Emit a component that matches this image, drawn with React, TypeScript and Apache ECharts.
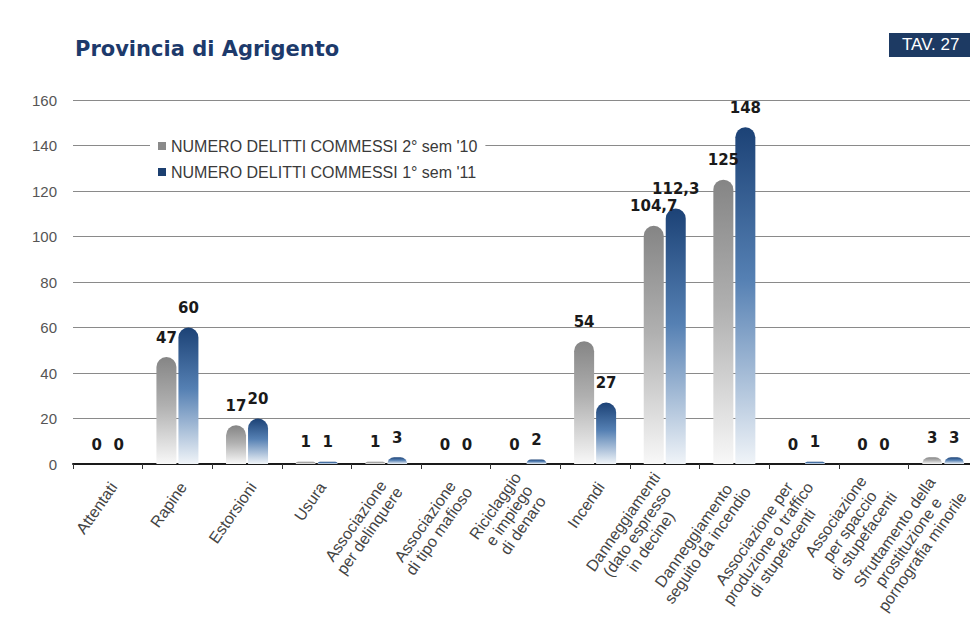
import React, { useEffect, useRef } from "react";
import * as echarts from "echarts";

const categories = [
  "Attentati",
  "Rapine",
  "Estorsioni",
  "Usura",
  "Associazione\nper delinquere",
  "Associazione\ndi tipo mafioso",
  "Riciclaggio\ne impiego\ndi denaro",
  "Incendi",
  "Danneggiamenti\n(dato espresso\nin decine)",
  "Danneggiamento\nseguito da incendio",
  "Associazione per\nproduzione o traffico\ndi stupefacenti",
  "Associazione\nper spaccio\ndi stupefacenti",
  "Sfruttamento della\nprostituzione e\npornografia minorile",
];
const series2sem10 = [0, 47, 17, 1, 1, 0, 0, 54, 104.7, 125, 0, 0, 3];
const series1sem11 = [0, 60, 20, 1, 3, 0, 2, 27, 112.3, 148, 1, 0, 3];
const seriesNames = ["NUMERO DELITTI COMMESSI 2° sem '10", "NUMERO DELITTI COMMESSI 1° sem '11"];
const yTicks = { min: 0, max: 160, interval: 20 };

const fmt = (v: number) => String(v).replace(".", ",");

export default function App() {
  const ref = useRef<HTMLDivElement>(null);
  useEffect(() => {
    if (!ref.current) return;
    const chart = echarts.init(ref.current, null, { renderer: "svg" });
    const grayGrad = new echarts.graphic.LinearGradient(0, 0, 0, 1, [
      { offset: 0, color: "#858585" },
      { offset: 0.45, color: "#b0b0b0" },
      { offset: 1, color: "#f8f8f8" },
    ]);
    const blueGrad = new echarts.graphic.LinearGradient(0, 0, 0, 1, [
      { offset: 0, color: "#1c4276" },
      { offset: 0.45, color: "#5580b3" },
      { offset: 1, color: "#f0f4f8" },
    ]);
    const label = {
      show: true,
      position: "top" as const,
      distance: 12,
      fontFamily: "DejaVu Sans",
      fontWeight: "bold" as const,
      fontSize: 15,
      color: "#1a1a1a",
      formatter: (p: any) => fmt(p.value),
    };
    chart.setOption({
      animation: false,
      backgroundColor: "#ffffff",
      graphic: [
        {
          type: "text",
          left: 75,
          top: 38,
          style: {
            text: "Provincia di Agrigento",
            fontFamily: "DejaVu Sans",
            fontWeight: "bold",
            fontSize: 21,
            fill: "#1d3a6b",
          },
        },
        {
          type: "rect",
          shape: { x: 889, y: 33, width: 90, height: 24 },
          style: { fill: "#1d3a63" },
        },
        {
          type: "text",
          x: 902,
          y: 36,
          style: {
            text: "TAV. 27",
            fontFamily: "Liberation Sans",
            fontSize: 17,
            fill: "#ffffff",
          },
        },
      ],
      legend: {
        orient: "vertical",
        left: 150,
        top: 136,
        backgroundColor: "#ffffff",
        padding: [2, 8, 2, 8],
        itemWidth: 8,
        itemHeight: 8,
        itemGap: 10,
        icon: "rect",
        textStyle: { fontFamily: "Liberation Sans", fontSize: 16, color: "#3a3a3a" },
        data: [
          { name: seriesNames[0], itemStyle: { color: "#8a8a8a" } },
          { name: seriesNames[1], itemStyle: { color: "#1c3f70" } },
        ],
      },
      grid: { left: 73, right: -8, top: 100, bottom: 157, outerBoundsMode: "none" },
      xAxis: {
        type: "category",
        data: categories,
        axisLine: { lineStyle: { color: "#1a1a1a", width: 2 } },
        axisTick: { show: true, length: 5, lineStyle: { color: "#333", width: 1 } },
        axisLabel: {
          interval: 0,
          rotate: 55,
          margin: 16,
          padding: [14, 0, 0, 0],
          color: "#444",
          formatter: (v: string) =>
            v
              .split("\n")
              .map((l) => `{c|${l}}`)
              .join("\n"),
          rich: {
            c: {
              align: "center",
              fontFamily: "Liberation Sans",
              fontSize: 16,
              lineHeight: 17,
              color: "#444",
            },
          },
        },
      },
      yAxis: {
        type: "value",
        min: yTicks.min,
        max: yTicks.max,
        interval: yTicks.interval,
        axisLine: { show: false },
        axisTick: { show: false },
        axisLabel: {
          margin: 16,
          fontFamily: "Liberation Sans",
          fontSize: 15,
          color: "#555",
        },
        splitLine: { lineStyle: { color: "#8a8a8a", width: 1 } },
      },
      series: [
        {
          name: seriesNames[0],
          type: "bar",
          data: series2sem10,
          barWidth: 20,
          barGap: "10%",
          itemStyle: { color: grayGrad, borderRadius: [10, 10, 0, 0] },
          label,
        },
        {
          name: seriesNames[1],
          type: "bar",
          data: series1sem11,
          barWidth: 20,
          itemStyle: { color: blueGrad, borderRadius: [10, 10, 0, 0] },
          label,
        },
      ],
    });
    return () => chart.dispose();
  }, []);
  return (
    <div
      ref={ref}
      style={{ position: "fixed", left: 0, top: 0, width: 970, height: 621 }}
    />
  );
}
